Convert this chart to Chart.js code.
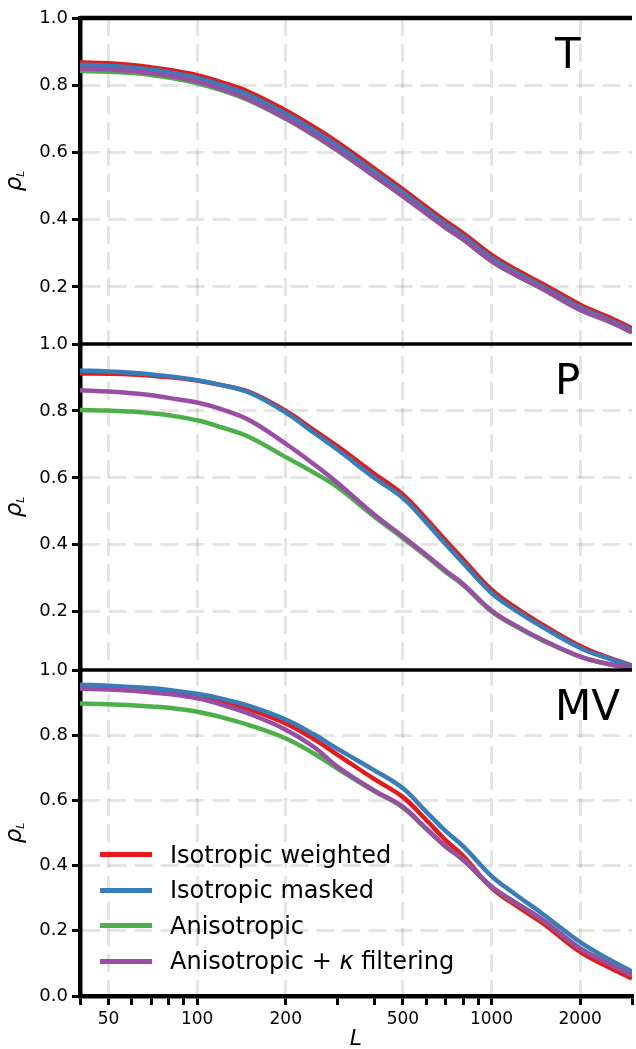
<!DOCTYPE html>
<html>
<head>
  <script src="https://cdn.jsdelivr.net/npm/chart.js@4.4.1/dist/chart.umd.min.js"></script>
  <style>
    html, body { margin: 0; padding: 0; background: #fff; }
    .wrap {
      position: relative;
      width: 636px;
      height: 1049px;
      font-family: "DejaVu Sans", sans-serif;
    }
    #rhoChart { position: absolute; left: 0; top: 0; }
    .legend { position: absolute; left: 100px; top: 837px; }
    .legend-item {
      display: flex;
      align-items: center;
      height: 35.5px;
      font-size: 24px;
      color: #000;
      white-space: nowrap;
    }
    .legend-line { width: 52px; height: 5px; margin-right: 18px; }
  </style>
</head>
<body>
  <div class="wrap">
    <canvas id="rhoChart" width="636" height="1049"></canvas>
    <div class="legend" id="legend"></div>
  </div>

  <script>
    // multipoles L (shared x values)
    const multipoles = [40, 50, 60, 70, 80, 100, 120, 150, 200, 250, 300, 400, 500, 600, 700, 800, 1000, 1200, 1500, 2000, 2500, 3000];

    const seriesNames = ['Isotropic weighted', 'Isotropic masked', 'Anisotropic', 'Anisotropic + \u03ba filtering'];
    const seriesColors = ['#e41a1c', '#377eb8', '#4daf4a', '#984ea3'];

    const panelNames = ['T', 'P', 'MV'];
    const panelMins = [0.03, 0.026, 0];

    // T panel
    const tWeighted = [0.868, 0.865, 0.860, 0.853, 0.846, 0.830, 0.810, 0.780, 0.725, 0.675, 0.630, 0.552, 0.490, 0.438, 0.395, 0.360, 0.295, 0.253, 0.208, 0.147, 0.110, 0.077];
    const tMasked   = [0.861, 0.858, 0.853, 0.846, 0.839, 0.822, 0.802, 0.771, 0.715, 0.665, 0.620, 0.542, 0.481, 0.429, 0.386, 0.351, 0.286, 0.245, 0.200, 0.139, 0.103, 0.071];
    const tAniso    = [0.842, 0.840, 0.836, 0.830, 0.823, 0.806, 0.786, 0.755, 0.700, 0.650, 0.605, 0.529, 0.469, 0.418, 0.375, 0.341, 0.276, 0.236, 0.192, 0.131, 0.097, 0.064];
    const tAnisoK   = [0.850, 0.847, 0.842, 0.835, 0.828, 0.811, 0.790, 0.758, 0.702, 0.652, 0.607, 0.530, 0.470, 0.419, 0.376, 0.342, 0.277, 0.237, 0.193, 0.132, 0.098, 0.065];

    // P panel
    const pWeighted = [0.912, 0.911, 0.909, 0.905, 0.901, 0.891, 0.878, 0.857, 0.800, 0.742, 0.694, 0.612, 0.550, 0.478, 0.412, 0.357, 0.266, 0.214, 0.160, 0.098, 0.063, 0.040];
    const pMasked   = [0.921, 0.918, 0.914, 0.909, 0.904, 0.892, 0.878, 0.855, 0.795, 0.734, 0.684, 0.600, 0.540, 0.467, 0.401, 0.346, 0.256, 0.206, 0.153, 0.092, 0.060, 0.038];
    const pAniso    = [0.803, 0.801, 0.798, 0.793, 0.787, 0.772, 0.752, 0.722, 0.662, 0.615, 0.572, 0.484, 0.420, 0.366, 0.318, 0.280, 0.201, 0.158, 0.113, 0.066, 0.043, 0.033];
    const pAnisoK   = [0.862, 0.858, 0.853, 0.847, 0.839, 0.825, 0.806, 0.773, 0.702, 0.640, 0.585, 0.490, 0.425, 0.370, 0.322, 0.283, 0.204, 0.160, 0.115, 0.066, 0.044, 0.034];

    // MV panel
    const mvWeighted = [0.950, 0.947, 0.943, 0.938, 0.933, 0.922, 0.906, 0.880, 0.836, 0.787, 0.740, 0.665, 0.610, 0.540, 0.477, 0.430, 0.332, 0.280, 0.222, 0.135, 0.088, 0.054];
    const mvMasked   = [0.955, 0.952, 0.948, 0.944, 0.939, 0.927, 0.913, 0.890, 0.848, 0.802, 0.758, 0.692, 0.637, 0.565, 0.505, 0.460, 0.368, 0.313, 0.250, 0.165, 0.113, 0.075];
    const mvAniso    = [0.897, 0.895, 0.892, 0.888, 0.884, 0.872, 0.856, 0.831, 0.790, 0.743, 0.697, 0.628, 0.578, 0.512, 0.458, 0.418, 0.335, 0.287, 0.231, 0.146, 0.100, 0.064];
    const mvAnisoK   = [0.943, 0.940, 0.936, 0.931, 0.926, 0.913, 0.895, 0.866, 0.817, 0.763, 0.703, 0.630, 0.580, 0.514, 0.458, 0.418, 0.336, 0.288, 0.232, 0.146, 0.100, 0.064];

    const panelValues = [
      [tWeighted, tMasked, tAniso, tAnisoK],
      [pWeighted, pMasked, pAniso, pAnisoK],
      [mvWeighted, mvMasked, mvAniso, mvAnisoK]
    ];

    // axis ticks
    const xTicks = [40, 50, 60, 70, 80, 90, 100, 200, 300, 400, 500, 600, 700, 800, 900, 1000, 2000, 3000];
    const xLabelled = [50, 100, 200, 500, 1000, 2000];
    const yTicksUpper = [0.2, 0.4, 0.6, 0.8, 1.0];
    const yTicksBottom = [0.0, 0.2, 0.4, 0.6, 0.8, 1.0];

    const FONT = '"DejaVu Sans", sans-serif';
    const GRID = 'rgba(0, 0, 0, 0.1)';

    const datasets = [];
    panelValues.forEach((vals, p) => {
      vals.forEach((ys, s) => {
        datasets.push({
          label: seriesNames[s],
          data: multipoles.map((L, i) => ({x: L, y: ys[i]})),
          yAxisID: 'y' + p,
          borderColor: seriesColors[s],
          backgroundColor: seriesColors[s],
          borderWidth: 4.5,
          pointRadius: 0,
          tension: 0.4,
          order: 3 - s
        });
      });
    });

    function yScale(p) {
      const ticks = p === 2 ? yTicksBottom : yTicksUpper;
      return {
        type: 'linear',
        position: 'left',
        stack: 'rho',
        stackWeight: 1,
        weight: 3 - p,
        min: panelMins[p],
        max: 1.0,
        afterBuildTicks: s => { s.ticks = ticks.map(v => ({value: v})); },
        afterFit: s => { s.width = 80; },
        ticks: {
          callback: v => Number(v).toFixed(1),
          font: {family: FONT, size: 18},
          color: '#000',
          padding: 4
        },
        grid: {
          color: c => (c.tick && (c.tick.value === 0 || c.tick.value === 1)) ? 'rgba(0,0,0,0)' : GRID,
          lineWidth: 3,
          tickColor: '#000',
          tickWidth: 3,
          tickLength: 8
        },
        border: {color: '#000', width: 4.5, dash: [18, 8]}
      };
    }

    // frame lines, panel names and the rho_L titles
    const panelDecor = {
      id: 'panelDecor',
      afterDraw(chart) {
        const {ctx, chartArea} = chart;
        panelNames.forEach((name, p) => {
          const ys = chart.scales['y' + p];
          ctx.save();
          ctx.strokeStyle = '#000';
          ctx.lineWidth = p === 0 ? 4.5 : 3.5;
          ctx.beginPath();
          ctx.moveTo(chartArea.left, ys.top);
          ctx.lineTo(chartArea.right, ys.top);
          ctx.stroke();

          ctx.fillStyle = '#000';
          ctx.font = '42px ' + FONT;
          ctx.textAlign = 'left';
          ctx.textBaseline = 'alphabetic';
          ctx.fillText(name, chartArea.right - 77, ys.top + 50);

          const cy = (ys.top + ys.bottom) / 2;
          ctx.translate(21, cy);
          ctx.rotate(-Math.PI / 2);
          ctx.font = 'italic 23px ' + FONT;
          const wr = ctx.measureText('\u03c1').width;
          ctx.font = 'italic 11px ' + FONT;
          const wl = ctx.measureText('L').width;
          const x0 = -(wr + wl) / 2;
          ctx.font = 'italic 23px ' + FONT;
          ctx.fillText('\u03c1', x0, 0);
          ctx.font = 'italic 11px ' + FONT;
          ctx.fillText('L', x0 + wr, 3);
          ctx.restore();
        });
      }
    };

    const scales = {
      x: {
        type: 'logarithmic',
        min: 40,
        max: 3000,
        afterBuildTicks: s => { s.ticks = xTicks.map(v => ({value: v})); },
        afterFit: s => { s.height = 53; },
        ticks: {
          autoSkip: false,
          maxRotation: 0,
          callback: v => xLabelled.includes(v) ? String(v) : '',
          font: {family: FONT, size: 17},
          color: '#000',
          padding: 4
        },
        grid: {
          color: c => (c.tick && xLabelled.includes(c.tick.value)) ? GRID : 'rgba(0,0,0,0)',
          lineWidth: 3,
          tickColor: '#000',
          tickWidth: 3,
          tickLength: 9
        },
        border: {color: '#000', width: 4.5, dash: [18, 8]},
        title: {
          display: true,
          text: 'L',
          color: '#000',
          font: {family: FONT, size: 22, style: 'italic', lineHeight: 0.85},
          padding: 0
        }
      }
    };
    panelNames.forEach((_, p) => { scales['y' + p] = yScale(p); });

    new Chart(document.getElementById('rhoChart').getContext('2d'), {
      type: 'line',
      data: {datasets},
      options: {
        responsive: false,
        animation: false,
        layout: {padding: {top: 18, right: 0, bottom: 0, left: 0}},
        scales,
        plugins: {
          legend: {display: false},
          tooltip: {enabled: false}
        }
      },
      plugins: [panelDecor]
    });

    // legend as real text
    const legend = document.getElementById('legend');
    seriesNames.forEach((name, s) => {
      const row = document.createElement('div');
      row.className = 'legend-item';
      const label = name.replace('\u03ba', '<i>\u03ba</i>');
      row.innerHTML = `<div class="legend-line" style="background:${seriesColors[s]}"></div><span>${label}</span>`;
      legend.appendChild(row);
    });
  </script>
</body>
</html>
